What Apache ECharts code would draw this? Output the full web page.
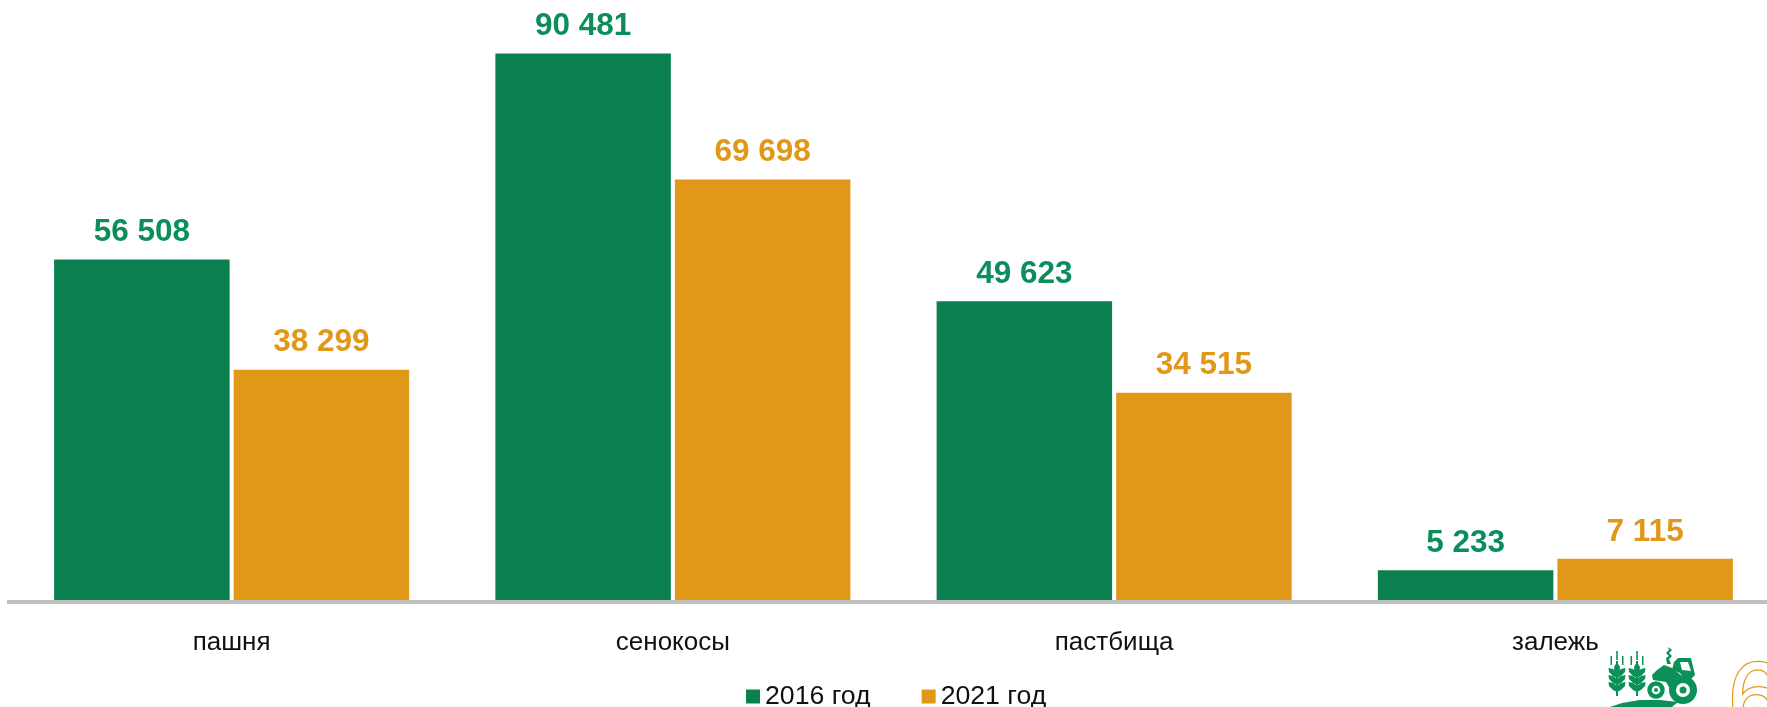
<!DOCTYPE html>
<html>
<head>
<meta charset="utf-8">
<style>
  html, body { margin: 0; padding: 0; background: #fff; }
  #grafico { width: 1767px; height: 707px; }
</style>
<script src="https://cdn.jsdelivr.net/npm/echarts@6/dist/echarts.min.js"></script>
</head>
<body>
<div id="grafico"></div>
<script>
const categorias = ['пашня', 'сенокосы', 'пастбища', 'залежь'];
const nomeSerie1 = '2016 год';
const nomeSerie2 = '2021 год';
const valores2016 = [56508, 90481, 49623, 5233];
const valores2021 = [38299, 69698, 34515, 7115];

const verde = '#0a8050';
const verdeTexto = '#0b8d5c';
const verdeLogo = '#0b9158';
const laranja = '#e19717';
const fonte = '"Liberation Sans", Arial, sans-serif';

// 90481 -> "90 481"
function formatar(p) {
    return String(p.value).replace(/\B(?=(\d{3})+$)/g, ' ');
}

function rotulo(cor) {
    return { show: true, position: 'top', distance: 11, color: cor, fontFamily: fonte, fontSize: 31.5, fontWeight: 'bold', formatter: formatar };
}

// Um par de folhas da espiga, em forma de "V"
function folhas(y) {
    return { type: 'polygon', shape: { points: [[0, y + 4], [-4, y + 1], [-8.5, y], [-8, y + 4], [-4, y + 8], [0, y + 10], [4, y + 8], [8, y + 4], [8.5, y], [4, y + 1]] }, style: { fill: verdeLogo } };
}

// Espiga do logotipo: caule, folhas e grãos, desenhada em torno de x = 0
function espiga(x, y) {
    return {
        type: 'group', x: x, y: y,
        children: [
            { type: 'rect', shape: { x: -1, y: 10, width: 2, height: 35 }, style: { fill: verdeLogo } },
            { type: 'polygon', shape: { points: [[0, 11], [3, 16], [2.5, 21], [0, 23], [-2.5, 21], [-3, 16]] }, style: { fill: verdeLogo } },
            { type: 'rect', shape: { x: -6.5, y: 5, width: 1.5, height: 9 }, style: { fill: verdeLogo } },
            { type: 'rect', shape: { x: 5, y: 5, width: 1.5, height: 9 }, style: { fill: verdeLogo } },
            { type: 'rect', shape: { x: -0.8, y: 0, width: 1.6, height: 9 }, style: { fill: verdeLogo } },
            folhas(17),
            folhas(24),
            folhas(31)
        ]
    };
}

function roda(cx, cy, r, largura) {
    return { type: 'circle', shape: { cx: cx, cy: cy, r: r }, style: { fill: '#fff', stroke: verdeLogo, lineWidth: largura } };
}

const logo = [
    espiga(1617, 651),
    espiga(1637, 651),
    // cabine e capô do trator
    { type: 'polygon', shape: { points: [[1678, 658], [1691, 658], [1695, 675], [1690, 680], [1682, 676], [1680, 673], [1672, 670], [1674, 662]] }, style: { fill: verdeLogo } },
    { type: 'polygon', shape: { points: [[1680, 662], [1688, 662], [1691, 671], [1682, 670]] }, style: { fill: '#fff' } },
    { type: 'polygon', shape: { points: [[1657, 670], [1664, 665], [1672, 668], [1682, 676], [1672, 692], [1666, 682], [1653, 680], [1652, 675]] }, style: { fill: verdeLogo } },
    // escapamento
    { type: 'polygon', shape: { points: [[1668, 647], [1672, 650], [1669, 653], [1672, 656], [1669, 659], [1671, 664], [1667, 664], [1666, 658], [1669, 656], [1666, 653], [1669, 650]] }, style: { fill: verdeLogo } },
    roda(1656, 690, 6.5, 4.5),
    { type: 'circle', shape: { cx: 1656, cy: 690, r: 2 }, style: { fill: verdeLogo } },
    roda(1683, 690, 10.5, 7),
    { type: 'circle', shape: { cx: 1683, cy: 690, r: 3.5 }, style: { fill: verdeLogo } },
    // terreno
    { type: 'polygon', shape: { points: [[1610, 707], [1622, 703], [1640, 700], [1660, 700], [1678, 702], [1672, 707]] }, style: { fill: verdeLogo } }
];

const meuGrafico = echarts.init(document.getElementById('grafico'));

meuGrafico.setOption({
    animation: false,
    backgroundColor: '#fff',
    legend: {
        left: 746,
        top: 683,
        padding: 0,
        itemWidth: 14,
        itemHeight: 14,
        itemGap: 51,
        icon: 'rect',
        textStyle: { color: '#111', fontFamily: fonte, fontSize: 26.67 },
        data: [nomeSerie1, nomeSerie2]
    },
    grid: { left: 11, top: 20, width: 1765, height: 582, outerBoundsMode: 'none' },
    xAxis: {
        type: 'category',
        data: categorias,
        z: 3,
        axisTick: { show: false },
        axisLine: { lineStyle: { color: '#c0c0c0', width: 4 } },
        axisLabel: { color: '#111', fontFamily: fonte, fontSize: 26, margin: 28 }
    },
    yAxis: { type: 'value', min: 0, max: 96000, show: false },
    series: [
        { name: nomeSerie1, type: 'bar', data: valores2016, barWidth: 175.5, barGap: '2.3%', itemStyle: { color: verde }, label: rotulo(verdeTexto) },
        { name: nomeSerie2, type: 'bar', data: valores2021, barWidth: 175.5, itemStyle: { color: laranja }, label: rotulo(laranja) }
    ],
    graphic: [
        // a linha do eixo começa um pouco antes da primeira categoria
        { type: 'rect', shape: { x: 7, y: 600, width: 4, height: 4 }, style: { fill: '#c0c0c0' } },
        { type: 'text', x: 1728, y: 654, style: { text: '6', fontFamily: fonte, fontSize: 100, fill: '#fff', stroke: laranja, lineWidth: 2.5 } }
    ].concat(logo)
});
</script>
</body>
</html>
